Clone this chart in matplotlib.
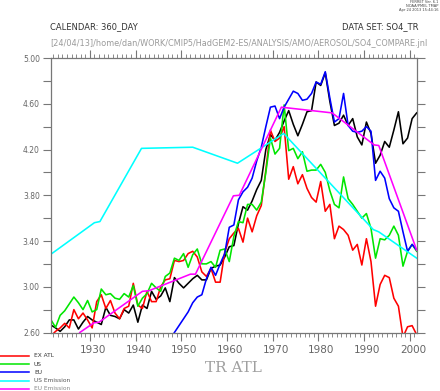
import numpy as np
import matplotlib
matplotlib.use("Agg")
import matplotlib.pyplot as plt
from matplotlib.lines import Line2D
import matplotlib.transforms as mtransforms

# ---------------- data ----------------
years = list(range(1921, 2002))  # annual means, plotted at mid-year

tr_atl = [2.665, 2.64, 2.61, 2.65, 2.71, 2.71, 2.63, 2.69, 2.74, 2.71,
          2.69, 2.67, 2.82, 2.75, 2.74, 2.72, 2.80, 2.77, 2.84, 2.69,
          2.84, 2.81, 2.96, 2.89, 2.92, 2.99, 2.87, 3.08, 3.03, 2.99,
          3.03, 3.07, 3.10, 3.06, 3.06, 3.16, 3.18, 3.19, 3.26, 3.35,
          3.36, 3.55, 3.70, 3.67, 3.75, 3.85, 3.93, 4.20, 4.33, 4.28,
          4.35, 4.45, 4.54, 4.42, 4.32, 4.42, 4.53, 4.54, 4.79, 4.76,
          4.87, 4.62, 4.41, 4.43, 4.50, 4.41, 4.47, 4.31, 4.24, 4.44,
          4.34, 4.08, 4.15, 4.27, 4.22, 4.37, 4.53, 4.25, 4.30, 4.47,
          4.52]

ex_atl = [2.57, 2.61, 2.64, 2.68, 2.64, 2.80, 2.72, 2.77, 2.71, 2.64,
          2.87, 2.93, 2.81, 2.88, 2.77, 2.72, 2.81, 2.83, 3.03, 2.84,
          2.81, 2.96, 2.87, 2.87, 3.00, 3.06, 3.07, 3.23, 3.22, 3.23,
          3.29, 3.31, 3.26, 3.13, 3.09, 3.16, 3.04, 3.04, 3.30, 3.42,
          3.47, 3.51, 3.39, 3.60, 3.48, 3.62, 3.71, 4.02, 4.37, 4.27,
          4.30, 4.40, 3.94, 4.05, 3.90, 3.98, 3.86, 3.78, 3.74, 3.92,
          3.66, 3.72, 3.42, 3.53, 3.50, 3.45, 3.32, 3.37, 3.19, 3.42,
          3.22, 2.83, 3.02, 3.10, 3.08, 2.90, 2.83, 2.56, 2.65, 2.66,
          2.58]

us = [2.71, 2.645, 2.75, 2.79, 2.85, 2.91, 2.86, 2.80, 2.88, 2.78,
      2.80, 2.98, 2.93, 2.94, 2.90, 2.89, 2.94, 2.91, 3.01, 2.83,
      2.90, 2.94, 3.03, 2.99, 2.96, 3.09, 3.12, 3.25, 3.23, 3.29,
      3.17, 3.28, 3.33, 3.20, 3.20, 3.22, 3.17, 3.32, 3.33, 3.22,
      3.44, 3.57, 3.56, 3.72, 3.72, 3.67, 3.74, 4.00, 4.30, 4.16,
      4.21, 4.59, 4.19, 4.21, 4.12, 4.18, 4.01, 4.02, 4.02, 4.07,
      4.00, 3.84, 3.72, 3.69, 3.96, 3.77, 3.72, 3.66, 3.60, 3.64,
      3.51, 3.25, 3.42, 3.41, 3.45, 3.53, 3.45, 3.18, 3.31, 3.37,
      3.31]

nan = float("nan")
eu = [nan] * 26 + [
      2.54, 2.60, 2.66, 2.72, 2.78, 2.86, 2.91, 2.93, 3.07, 3.17,
      3.10, 3.20, 3.29, 3.52, 3.54, 3.76, 3.83, 3.87, 3.95, 4.10,
      4.22, 4.40, 4.57, 4.58, 4.47, 4.57, 4.64, 4.71, 4.69, 4.63,
      4.64, 4.69, 4.79, 4.77, 4.88, 4.65, 4.44, 4.47, 4.69, 4.41,
      4.36, 4.35, 4.36, 4.40, 4.36, 3.93, 4.01, 3.95, 3.77, 3.69,
      3.66, 3.48, 3.31, 3.37, 3.32]

us_em_time = [1921.5, 1931.0, 1932.2, 1941.3, 1952.5, 1962.3, 1972.4, 1992.0, 1993.2, 2001.5]
us_em_vals = [3.285, 3.56, 3.57, 4.21, 4.22, 4.08, 4.34, 3.50, 3.48, 3.25]

eu_em_time = [1927.8, 1930.9, 1932.0, 1941.5, 1942.9, 1952.0, 1953.1, 1961.4, 1962.7,
              1971.9, 1983.0, 1992.2, 1993.2, 2001.5]
eu_em_vals = [2.60, 2.685, 2.69, 2.96, 2.965, 3.11, 3.11, 3.795, 3.80,
              4.57, 4.52, 4.24, 4.235, 3.32]

legend_labels = ["EX ATL", "US", "EU", "US Emission", "EU Emission"]
series_colors = ["#ff0000", "#00e600", "#0000ff", "#00ffff", "#ff00ff"]
xtick_years = [1930, 1940, 1950, 1960, 1970, 1980, 1990, 2000]
ytick_vals = [2.60, 3.00, 3.40, 3.80, 4.20, 4.60, 5.00]

# ---------------- figure ----------------
W, H = 440, 391
fig = plt.figure(figsize=(W / 100, H / 100), dpi=100)
L, R, T, B = 51, 416.7, 58.0, 332.5
ax = fig.add_axes([L / W, (H - B) / H, (R - L) / W, (B - T) / H])

xm = [y + 0.5 for y in years]
lw = 1.15
ax.plot(xm, tr_atl, color="black", lw=lw)
ax.plot(xm, ex_atl, color=series_colors[0], lw=lw)
ax.plot(xm, us, color=series_colors[1], lw=lw)
ax.plot(xm, eu, color=series_colors[2], lw=lw)
ax.plot(us_em_time, us_em_vals, color=series_colors[3], lw=lw)
ax.plot(eu_em_time, eu_em_vals, color=series_colors[4], lw=lw)

ax.set_xlim(1921.5, 2001.5)
ax.set_ylim(2.6, 5.0)

spine_c = "#777777"
for s in ax.spines.values():
    s.set_color(spine_c)
    s.set_linewidth(0.9)

ax.set_xticks(xtick_years)
ax.set_xticks(np.arange(1922, 2002, 1), minor=True)
ax.set_xticklabels([str(y) for y in xtick_years])
ax.set_yticks(ytick_vals)
ax.set_yticks(np.arange(2.8, 5.0, 0.4), minor=True)
ax.set_yticklabels(["%.2f" % v for v in ytick_vals])

ax.tick_params(axis="x", which="major", direction="out", length=6, width=0.8,
               color=spine_c, top=True, bottom=True, labelsize=7.5,
               labelcolor="#666666", pad=3)
ax.tick_params(axis="x", which="minor", direction="out", length=3, width=0.6,
               color=spine_c, top=True, bottom=True)
ax.tick_params(axis="y", which="both", direction="out", length=6, width=0.8,
               color=spine_c, left=True, right=True, labelsize=5.5,
               labelcolor="#666666", pad=2)

offset = mtransforms.ScaledTranslation(3 / 100, 0, fig.dpi_scale_trans)
for lab in ax.get_xticklabels():
    lab.set_transform(lab.get_transform() + offset)

# ---------------- texts ----------------
def px(x, y):
    return x / W, 1 - y / H

fig.text(*px(50, 27), "CALENDAR: 360_DAY", fontsize=6, color="#333333",
         ha="left", va="center")
fig.text(*px(418, 27), "DATA SET: SO4_TR", fontsize=6, color="#333333",
         ha="right", va="center")
fig.text(*px(239, 43),
         "[24/04/13]/home/dan/WORK/CMIP5/HadGEM2-ES/ANALYSIS/AMO/AEROSOL/SO4_COMPARE.jnl",
         fontsize=5.9, color="#9a9a9a", ha="center", va="center")
fig.text(*px(438, 6), "FERRET Ver. 6.1\nNOAA/PMEL TMAP\nApr 24 2013 15:44:16",
         fontsize=2.6, color="#444444", ha="right", va="center",
         multialignment="right", linespacing=1.1)
fig.text(*px(233, 368), "TR ATL", fontsize=11, color="#a0a0a0",
         family="DejaVu Serif", ha="center", va="center")

leg_y = [355.7, 364.0, 372.3, 380.7, 389.0]
leg_tc = ["#333333", "#333333", "#333333", "#555555", "#888888"]
for lab, c, yy, tc in zip(legend_labels, series_colors, leg_y, leg_tc):
    x0, y0 = px(0, yy)
    x1, _ = px(29, yy)
    fig.add_artist(Line2D([x0, x1], [y0, y0], color=c, lw=1.1,
                          transform=fig.transFigure))
    fig.text(*px(34, yy), lab, fontsize=4.2, color=tc, ha="left", va="center")

fig.savefig("out.png", dpi=100)
